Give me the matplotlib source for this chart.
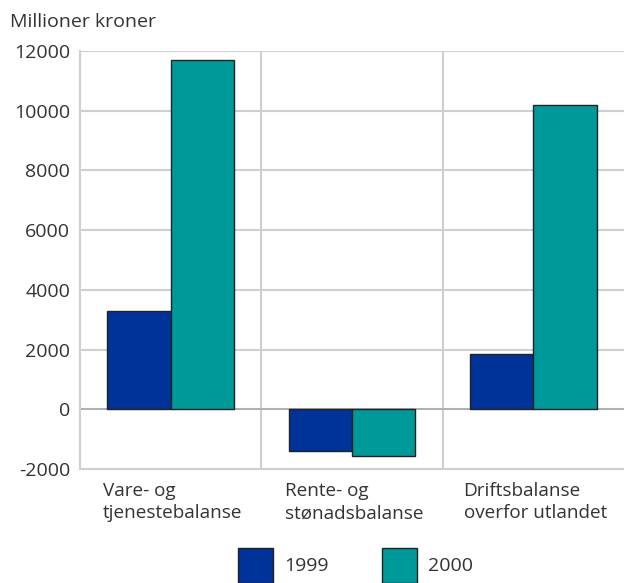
import matplotlib.pyplot as plt
from matplotlib.patches import Patch
import numpy as np

plt.rcParams['font.family'] = ['Open Sans', 'DejaVu Sans']

categories = ["Vare- og\ntjenestebalanse", "Rente- og\nstønadsbalanse", "Driftsbalanse\noverfor utlandet"]
years = ["1999", "2000"]
values_1999 = [3300, -1400, 1850]
values_2000 = [11700, -1550, 10200]
yticks = [-2000, 0, 2000, 4000, 6000, 8000, 10000, 12000]

col_1999 = "#003399"
col_2000 = "#009999"
grid_col = "#cfcfcf"
text_col = "#333333"

fig = plt.figure(figsize=(6.24, 5.83), dpi=100)
ax = fig.add_axes([0.1282, 0.1955, 0.8718, 0.717])

x = np.arange(len(categories))
w = 0.35
ax.bar(x - w / 2, values_1999, w, color=col_1999, edgecolor="#222222", linewidth=1.0, zorder=3)
ax.bar(x + w / 2, values_2000, w, color=col_2000, edgecolor="#222222", linewidth=1.0, zorder=3)

ax.set_xlim(-0.5, 2.5)
ax.set_ylim(-2000, 12000)
ax.set_yticks(yticks)
ax.set_yticklabels([str(t) for t in yticks])

# horizontal + category-boundary gridlines
for t in yticks[1:]:
    ax.axhline(t, color=grid_col, lw=1.5, zorder=1)
for b in [0.5, 1.5]:
    ax.axvline(b, color=grid_col, lw=1.5, zorder=1)
ax.axhline(0, color="#aaaaaa", lw=1.2, zorder=2)

for s in ["top", "right"]:
    ax.spines[s].set_visible(False)
for s in ["left", "bottom"]:
    ax.spines[s].set_color(grid_col)
    ax.spines[s].set_linewidth(1.5)

ax.tick_params(axis="y", length=0, labelsize=14, colors=text_col, pad=7)
ax.set_xticks(x + 0.01)
ax.set_xticklabels(categories, multialignment="left", ha="center", linespacing=1.35)
ax.tick_params(axis="x", length=0, labelsize=13.6, colors=text_col, pad=9)

fig.text(0.016, 0.962, "Millioner kroner", fontsize=14, color=text_col, va="center", ha="left")

handles = [Patch(facecolor=col_1999, edgecolor="#222222", label=years[0]),
           Patch(facecolor=col_2000, edgecolor="#222222", label=years[1])]
leg = fig.legend(handles=handles, loc="lower center", ncol=2, frameon=False,
                 bbox_to_anchor=(0.57, -0.03), fontsize=14, handlelength=1.8,
                 handleheight=2.4, columnspacing=2.78, handletextpad=0.55)
for t in leg.get_texts():
    t.set_color(text_col)

fig.savefig("out.png", dpi=100)
